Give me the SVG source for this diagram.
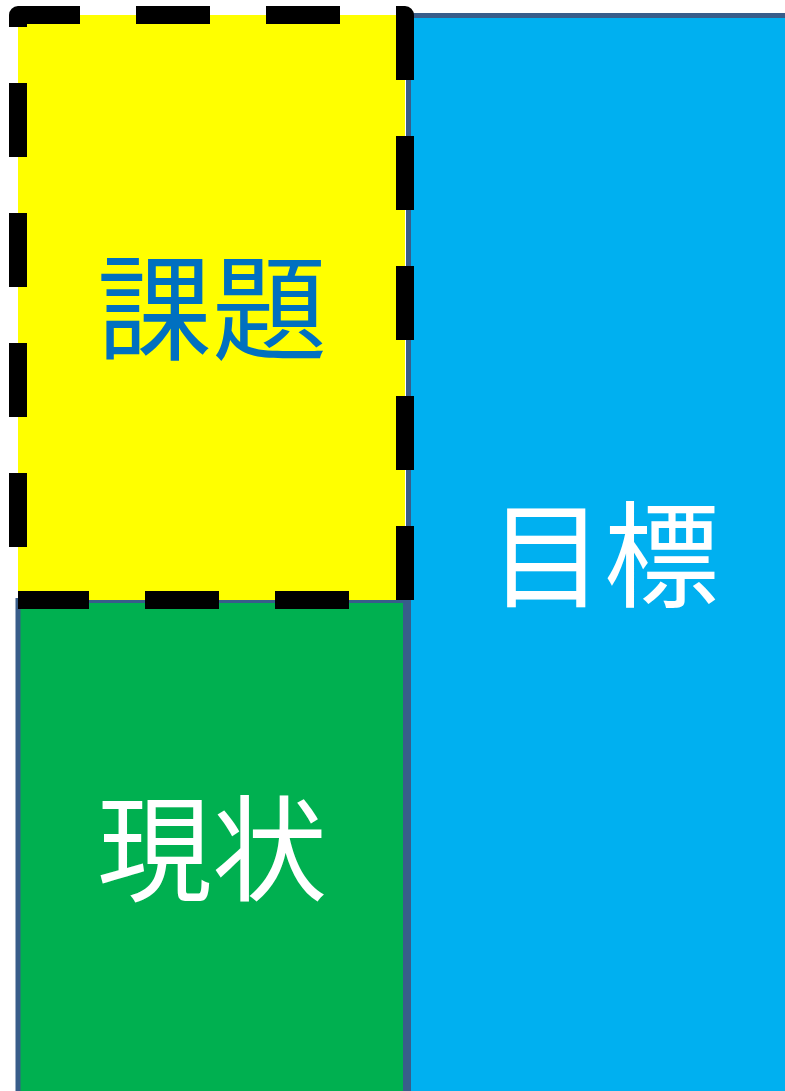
<svg xmlns="http://www.w3.org/2000/svg" width="785" height="1091" viewBox="0 0 785 1091">
<style>
.box{stroke:#385D8A;stroke-width:5}
.lbl{font-family:"Noto Sans CJK JP","Noto Sans CJK SC",sans-serif;font-size:115px;text-anchor:middle}
</style>
<rect width="785" height="1091" fill="#FFFFFF"/>
<g id="goal">
<rect class="box" x="408.5" y="15.5" width="420" height="1100" fill="#00B0F0"/>
<text class="lbl" x="604" y="598" fill="#FFFFFF">目標</text>
</g>
<g id="current">
<rect class="box" x="18" y="600.5" width="387.5" height="520" fill="#00B050"/>
<text class="lbl" x="212" y="892" fill="#FFFFFF">現状</text>
</g>
<g id="issue">
<rect x="18" y="15" width="387" height="585" fill="#FFFF00"/>
<path d="M18,600 V15 H405 V600 H18" fill="none" stroke="#000000" stroke-width="18" stroke-dasharray="74 56" stroke-dashoffset="77" stroke-linejoin="round" stroke-linecap="butt"/>
<text class="lbl" x="212" y="351" fill="#0070C0">課題</text>
</g>
</svg>
